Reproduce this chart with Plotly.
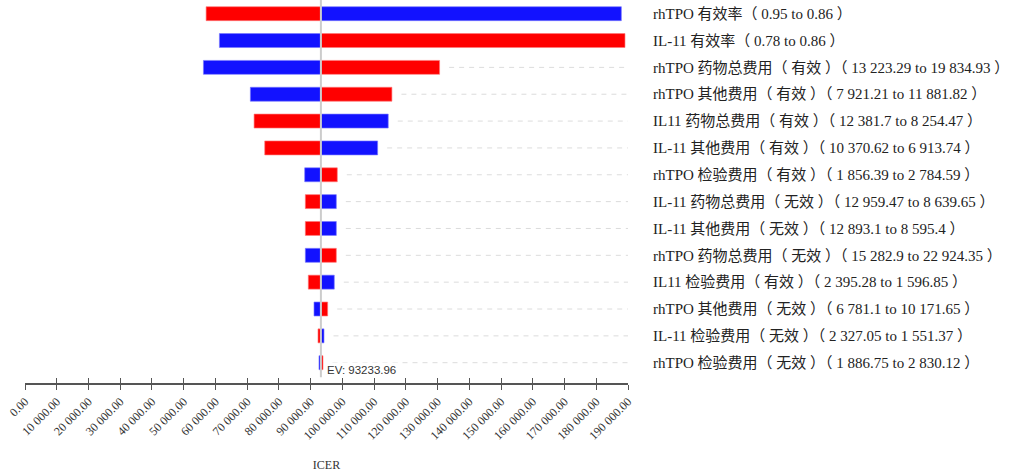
import plotly.graph_objects as go

# Tornado diagram of one-way sensitivity analysis on ICER
ev = 93233.96

labels = [
    "rhTPO 有效率（ 0.95 to 0.86 ）",
    "IL-11 有效率（ 0.78 to 0.86 ）",
    "rhTPO 药物总费用（ 有效 ）（ 13 223.29 to 19 834.93 ）",
    "rhTPO 其他费用（ 有效 ）（ 7 921.21 to 11 881.82 ）",
    "IL11 药物总费用（ 有效 ）（ 12 381.7 to 8 254.47 ）",
    "IL-11 其他费用（ 有效 ）（ 10 370.62 to 6 913.74 ）",
    "rhTPO 检验费用（ 有效 ）（ 1 856.39 to 2 784.59 ）",
    "IL-11 药物总费用（ 无效 ）（ 12 959.47 to 8 639.65 ）",
    "IL-11 其他费用（ 无效 ）（ 12 893.1 to 8 595.4 ）",
    "rhTPO 药物总费用（ 无效 ）（ 15 282.9 to 22 924.35 ）",
    "IL11 检验费用（ 有效 ）（ 2 395.28 to 1 596.85 ）",
    "rhTPO 其他费用（ 无效 ）（ 6 781.1 to 10 171.65 ）",
    "IL-11 检验费用（ 无效 ）（ 2 327.05 to 1 551.37 ）",
    "rhTPO 检验费用（ 无效 ）（ 1 886.75 to 2 830.12 ）",
]

# ICER at each end of the parameter range (red / blue bar ends)
red_end = [57070, 189050, 130630, 115610, 72180, 75540, 98400,
           88330, 88330, 98090, 89270, 95370, 92320, 93890]
blue_end = [187900, 61260, 56220, 71010, 114450, 111110, 88130,
            98090, 98090, 88330, 97450, 91060, 94210, 92630]

tick_vals = list(range(0, 190001, 10000))
tick_text = ["0.00", "10 000.00", "20 000.00", "30 000.00", "40 000.00",
             "50 000.00", "60 000.00", "70 000.00", "80 000.00", "90 000.00",
             "100 000.00", "110 000.00", "120 000.00", "130 000.00",
             "140 000.00", "150 000.00", "160 000.00", "170 000.00",
             "180 000.00", "190 000.00"]

n = len(labels)
ypos = [n - 1 - i for i in range(n)]

RED = "#ff0000"
BLUE = "#1212ff"

fig = go.Figure()
fig.add_trace(go.Bar(
    y=ypos, x=[v - ev for v in red_end], base=ev, orientation="h",
    width=0.52, marker=dict(color=RED, line=dict(color="rgba(255,120,120,0.8)", width=0.8)),
    showlegend=False, hoverinfo="skip",
))
fig.add_trace(go.Bar(
    y=ypos, x=[v - ev for v in blue_end], base=ev, orientation="h",
    width=0.52, marker=dict(color=BLUE, line=dict(color="rgba(120,120,255,0.8)", width=0.8)),
    showlegend=False, hoverinfo="skip",
))
# invisible trace to activate the overlaid tick axis
fig.add_trace(go.Scatter(x=[ev], y=[0], xaxis="x2", mode="markers",
                         marker=dict(opacity=0), showlegend=False, hoverinfo="skip"))

shapes = []
# dashed leader lines from each bar towards its label
gap = 3000
for y, r, b in zip(ypos, red_end, blue_end):
    start = max(r, b) + gap
    if start < tick_vals[-1] - 2000:
        shapes.append(dict(type="line", xref="x", yref="y", x0=start, x1=tick_vals[-1],
                           y0=y, y1=y, line=dict(color="#dcdcdc", width=1, dash="5px,5px"),
                           layer="below"))
# expected value line
shapes.append(dict(type="line", xref="x", yref="paper", x0=ev, x1=ev, y0=0.015, y1=1,
                   line=dict(color="#cccccc", width=2), layer="above"))

fig.update_layout(
    width=1015, height=472,
    margin=dict(l=25, r=387, t=0, b=89),
    paper_bgcolor="white", plot_bgcolor="white",
    barmode="overlay",
    shapes=shapes,
    xaxis=dict(
        range=[0, 190000], tickvals=tick_vals, ticktext=tick_text,
        tickangle=-45, ticks="outside", ticklen=5, tickcolor="#555", tickwidth=1,
        showline=True, linecolor="#555", linewidth=1.5, showgrid=False, zeroline=False,
        tickfont=dict(family="Liberation Serif", size=12, color="#333"),
        title=dict(text="ICER", font=dict(family="Liberation Serif", size=12, color="#333"),
                   standoff=20),
    ),
    xaxis2=dict(
        range=[0, 190000], tickvals=tick_vals, showticklabels=False,
        ticks="inside", ticklen=5, tickcolor="#555", tickwidth=1,
        overlaying="x", side="bottom", showgrid=False, zeroline=False, showline=False,
    ),
    yaxis=dict(
        range=[-0.756, n - 1 + 0.51], tickvals=ypos, ticktext=labels,
        side="right", ticks="", showgrid=False, zeroline=False, showline=False,
        ticklabelstandoff=24,
        tickfont=dict(family="Liberation Serif, Noto Sans CJK SC", size=15, color="#222"),
    ),
    annotations=[dict(
        x=ev, y=0, xref="x", yref="y", text=f"EV: {ev:.2f}", showarrow=False,
        xanchor="left", yanchor="middle", xshift=4, yshift=-7,
        bgcolor="white", borderpad=1,
        font=dict(family="Liberation Sans, Arial", size=11.5, color="#333"),
    )],
)

fig.write_html("out.html")
